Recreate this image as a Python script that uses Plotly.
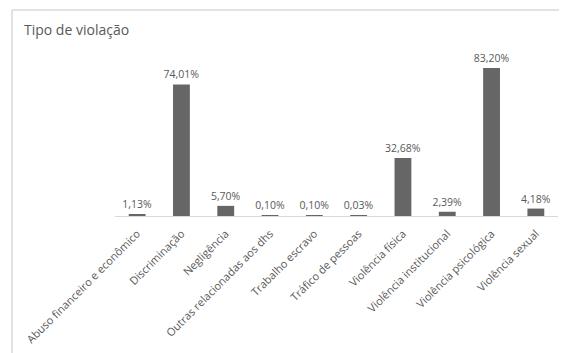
import plotly.graph_objects as go

categories = [
    "Abuso financeiro e econômico",
    "Discriminação",
    "Negligência",
    "Outras relacionadas aos dhs",
    "Trabalho escravo",
    "Tráfico de pessoas",
    "Violência física",
    "Violência institucional",
    "Violência psicológica",
    "Violência sexual",
]
values = [1.13, 74.01, 5.70, 0.10, 0.10, 0.03, 32.68, 2.39, 83.20, 4.18]
labels = [f"{v:.2f}".replace(".", ",") + "%" for v in values]

OFF = 8  # default page body margin
W, H = 567 - OFF, 353 - OFF
L = 115 - OFF
T = 50 - OFF
R = W - (558 - OFF)
B = H - (216 - OFF)
pw, ph = W - L - R, H - T - B

def px(x):
    return (x - OFF - L) / pw

def py(y):
    return (H - B - (y - OFF)) / ph

font = "Open Sans"
gray = "#595959"

fig = go.Figure(go.Bar(
    x=categories, y=values, text=labels, textposition="outside",
    constraintext="none",
    marker=dict(color="#666666", line=dict(width=0)),
    textfont=dict(family=font, size=10.5, color=gray),
    cliponaxis=False,
))

fig.update_layout(
    width=W, height=H,
    margin=dict(l=L, r=R, t=T, b=B, autoexpand=False),
    paper_bgcolor="white", plot_bgcolor="white",
    bargap=0.62,
    showlegend=False,
    title=dict(text="Tipo de violação", x=(24 - OFF) / W, xref="container", xanchor="left",
               y=1 - (30 - OFF) / H, yref="container", yanchor="middle",
               font=dict(family=font, size=14, color=gray)),
    xaxis=dict(showline=True, linecolor="#d9d9d9", linewidth=1, tickangle=-45,
               tickfont=dict(family=font, size=11, color=gray), ticks="",
               ticklabelstandoff=6,
               automargin=False, showgrid=False),
    yaxis=dict(visible=False, range=[0, ph / 1.778], showgrid=False, automargin=False),
    shapes=[
        dict(type="line", xref="paper", yref="paper", x0=px(12), x1=px(600), y0=py(10), y1=py(10),
             line=dict(color="#c6c6c6", width=1)),
        dict(type="line", xref="paper", yref="paper", x0=px(12), x1=px(12), y0=py(10), y1=py(400),
             line=dict(color="#c6c6c6", width=1)),
    ],
)

fig.write_html("out.html")
